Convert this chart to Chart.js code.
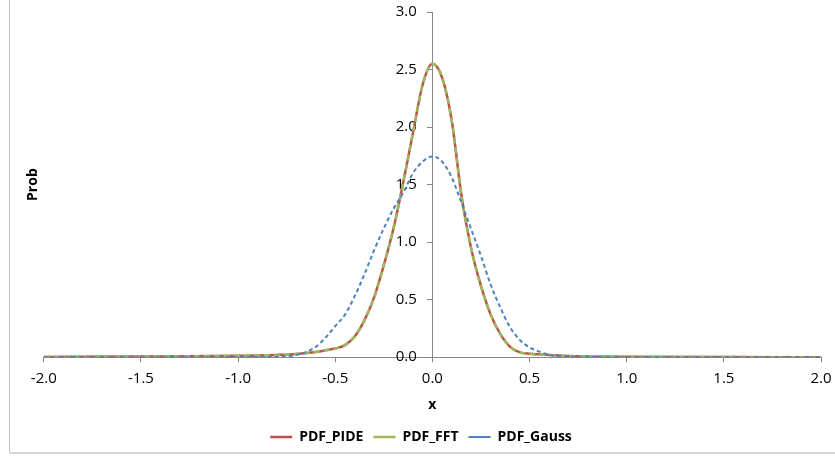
<!DOCTYPE html>
<html>
<head>
<meta charset="utf-8">
<script src="https://cdn.jsdelivr.net/npm/chart.js@4/dist/chart.umd.min.js"></script>
<style>
  html, body { margin: 0; padding: 0; background: #ffffff; }
  #wrap { width: 835px; height: 456px; position: relative; }
  canvas { display: block; }
</style>
</head>
<body>
<div id="wrap"><canvas id="c" width="835" height="456"></canvas></div>
<script>
// ---- data ----
const xValues = [-2.0, -1.5, -1.0, -0.8, -0.7, -0.6, -0.55, -0.5, -0.45, -0.4, -0.35, -0.3, -0.25, -0.2, -0.15, -0.1, -0.05, 0.0,
                 0.05, 0.1, 0.15, 0.2, 0.25, 0.3, 0.35, 0.4, 0.45, 0.5, 0.55, 0.6, 0.7, 0.8, 1.0, 1.5, 2.0];
const pdfPIDE  = [0.002, 0.005, 0.012, 0.020, 0.028, 0.045, 0.060, 0.075, 0.105, 0.18, 0.32, 0.52, 0.80, 1.12, 1.52, 1.95, 2.37, 2.55,
                  2.43, 2.05, 1.40, 0.94, 0.62, 0.37, 0.20, 0.09, 0.042, 0.030, 0.025, 0.020, 0.010, 0.006, 0.003, 0.001, 0.000];
const pdfFFT   = [0.002, 0.005, 0.012, 0.020, 0.028, 0.045, 0.060, 0.075, 0.105, 0.18, 0.32, 0.52, 0.80, 1.12, 1.52, 1.95, 2.37, 2.55,
                  2.43, 2.05, 1.40, 0.94, 0.62, 0.37, 0.20, 0.09, 0.042, 0.030, 0.025, 0.020, 0.010, 0.006, 0.003, 0.001, 0.000];
const pdfGauss = [0.000, 0.000, 0.001, 0.005, 0.020, 0.090, 0.170, 0.270, 0.370, 0.53, 0.72, 0.93, 1.12, 1.29, 1.43, 1.60, 1.70, 1.745,
                  1.70, 1.56, 1.34, 1.11, 0.88, 0.63, 0.43, 0.26, 0.15, 0.085, 0.048, 0.022, 0.006, 0.002, 0.000, 0.000, 0.000];
const seriesNames = ['PDF_PIDE', 'PDF_FFT', 'PDF_Gauss'];
const xTickValues = [-2.0, -1.5, -1.0, -0.5, 0.0, 0.5, 1.0, 1.5, 2.0];
const yTickValues = [0.0, 0.5, 1.0, 1.5, 2.0, 2.5, 3.0];
const xTitle = 'x';
const yTitle = 'Prob';

const toPoints = (ys) => xValues.map((x, i) => ({ x: x, y: ys[i] }));

const borderPlugin = {
  id: 'chartBorder',
  beforeDraw(chart) {
    const ctx = chart.ctx;
    ctx.save();
    ctx.strokeStyle = '#c4c4c4';
    ctx.lineWidth = 1;
    ctx.beginPath();
    ctx.moveTo(9.5, 0);
    ctx.lineTo(9.5, 453);
    ctx.stroke();
    ctx.strokeStyle = '#d6d6d6';
    ctx.lineWidth = 2;
    ctx.beginPath();
    ctx.moveTo(9, 453);
    ctx.lineTo(835, 453);
    ctx.stroke();
    ctx.restore();
  }
};

const zeroPad = (scale) => {
  scale.paddingTop = 0; scale.paddingBottom = 0;
  scale.paddingLeft = 0; scale.paddingRight = 0;
};

const tickFont = { family: '"Open Sans", sans-serif', size: 15 };
const boldFont = { family: '"Open Sans", sans-serif', size: 14, weight: 'bold' };

new Chart(document.getElementById('c'), {
  type: 'line',
  data: {
    datasets: [
      {
        label: seriesNames[0],
        data: toPoints(pdfPIDE),
        borderColor: '#C0504D',
        backgroundColor: '#C0504D',
        borderWidth: 2.5,
        pointRadius: 0,
        pointStyle: 'line',
        cubicInterpolationMode: 'monotone',
        fill: false,
        order: 3
      },
      {
        label: seriesNames[1],
        data: toPoints(pdfFFT),
        borderColor: '#9BBB59',
        backgroundColor: '#9BBB59',
        borderWidth: 2.5,
        borderDash: [6, 4],
        pointRadius: 0,
        pointStyle: 'line',
        cubicInterpolationMode: 'monotone',
        fill: false,
        order: 2
      },
      {
        label: seriesNames[2],
        data: toPoints(pdfGauss),
        borderColor: '#4F81BD',
        backgroundColor: '#4F81BD',
        borderWidth: 2,
        borderDash: [4, 3],
        pointRadius: 0,
        pointStyle: 'line',
        cubicInterpolationMode: 'monotone',
        fill: false,
        order: 1
      }
    ]
  },
  options: {
    responsive: false,
    animation: false,
    events: [],
    layout: { padding: { left: 21, right: 14, top: 12, bottom: 2 } },
    plugins: {
      legend: {
        position: 'bottom',
        labels: {
          usePointStyle: true,
          pointStyleWidth: 22,
          padding: 10,
          color: '#000000',
          font: boldFont,
          sort: (a, b) => a.datasetIndex - b.datasetIndex
        }
      },
      tooltip: { enabled: false }
    },
    scales: {
      x: {
        type: 'linear',
        position: 'bottom',
        min: -2,
        max: 2,
        afterBuildTicks: (axis) => { axis.ticks = xTickValues.map(v => ({ value: v })); },
        afterFit: zeroPad,
        ticks: {
          color: '#000000',
          font: tickFont,
          padding: 8,
          maxRotation: 0,
          callback: (v) => Number(v).toFixed(1)
        },
        grid: { drawOnChartArea: false, drawTicks: true, tickLength: 5, color: '#868686' },
        border: { color: '#868686', width: 1 },
        title: { display: true, text: xTitle, color: '#000000', font: boldFont, padding: { top: 0, bottom: 7 } }
      },
      y: {
        type: 'linear',
        position: { x: 0 },
        min: 0,
        max: 3,
        afterBuildTicks: (axis) => { axis.ticks = yTickValues.map(v => ({ value: v })); },
        afterFit: zeroPad,
        ticks: {
          color: '#000000',
          font: tickFont,
          padding: 9,
          callback: (v) => Number(v).toFixed(1) + '    '
        },
        grid: { drawOnChartArea: false, drawTicks: true, tickLength: 5, color: '#868686' },
        border: { color: '#868686', width: 1 }
      },
      yTitleAxis: {
        type: 'linear',
        position: 'left',
        display: true,
        afterFit: zeroPad,
        ticks: { display: false },
        grid: { display: false, drawTicks: false },
        border: { display: false },
        title: { display: true, text: yTitle, color: '#000000', font: boldFont, padding: { top: 4, bottom: 2 } }
      }
    }
  },
  plugins: [borderPlugin]
});
</script>
</body>
</html>
